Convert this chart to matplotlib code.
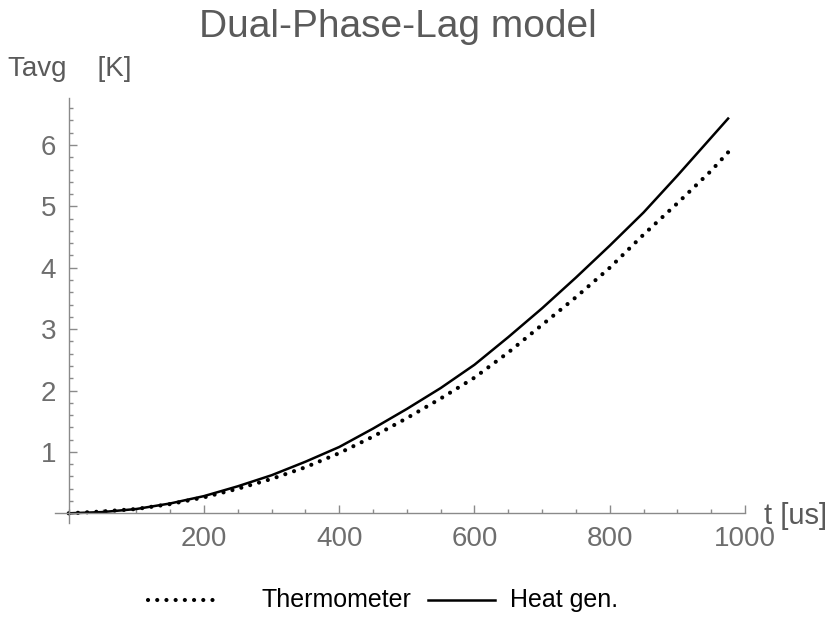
import matplotlib
matplotlib.use("Agg")
import matplotlib.pyplot as plt
from matplotlib.lines import Line2D
from matplotlib.ticker import MultipleLocator, FixedLocator

# ---- data ----
t_heat = [0, 50, 100, 150, 200, 250, 300, 350, 400, 450, 500, 550, 600,
          650, 700, 750, 800, 850, 900, 950, 975]
T_heat = [0, 0.02, 0.07, 0.16, 0.28, 0.44, 0.62, 0.84, 1.08, 1.38, 1.70,
          2.04, 2.42, 2.87, 3.34, 3.84, 4.36, 4.90, 5.50, 6.12, 6.43]

t_thermo = [0, 50, 100, 150, 200, 250, 300, 350, 400, 450, 500, 550, 600,
            650, 700, 750, 800, 850, 900, 950, 980]
T_thermo = [0, 0.03, 0.07, 0.15, 0.26, 0.40, 0.56, 0.75, 0.98, 1.25, 1.55,
            1.87, 2.21, 2.62, 3.07, 3.52, 4.00, 4.54, 5.05, 5.58, 5.94]

x_ticks = [200, 400, 600, 800, 1000]
y_ticks = [1, 2, 3, 4, 5, 6]
title = "Dual-Phase-Lag model"
xlabel = "t [us]"
ylabel = "Tavg    [K]"
labels = ["Thermometer", "Heat gen."]

plt.rcParams['font.family'] = ['Liberation Sans', 'DejaVu Sans']
GRAY = "#6e6e6e"
AXC = "#8a8a8a"

W, H = 836, 618
fig = plt.figure(figsize=(W / 100, H / 100), dpi=100)

xmin, xmax = -20, 1000
ymin, ymax = -0.15, 6.76
px_left, px_right = 55.2, 745.0
px_bottom, px_top = 522.5, 98.3
ax = fig.add_axes([px_left / W, 1 - px_bottom / H,
                   (px_right - px_left) / W, (px_bottom - px_top) / H])
ax.set_xlim(xmin, xmax)
ax.set_ylim(ymin, ymax)

dot_style = (0, (0.01, 2.2))
ax.plot(t_thermo, T_thermo, color="black", lw=3.0, linestyle=dot_style,
        dash_capstyle="round", solid_capstyle="round", label=labels[0])
ax.plot(t_heat, T_heat, color="black", lw=1.8, label=labels[1])

for s in ["top", "right"]:
    ax.spines[s].set_visible(False)
ax.spines["left"].set_position(("data", 0))
ax.spines["bottom"].set_position(("data", 0))
for s in ["left", "bottom"]:
    ax.spines[s].set_color(AXC)
    ax.spines[s].set_linewidth(1.0)

ax.xaxis.set_major_locator(FixedLocator(x_ticks))
ax.xaxis.set_minor_locator(MultipleLocator(50))
ax.yaxis.set_major_locator(FixedLocator(y_ticks))
ax.yaxis.set_minor_locator(MultipleLocator(0.2))
ax.tick_params(which="both", direction="in", color=AXC, width=1.0,
               labelcolor=GRAY, labelsize=20)
ax.tick_params(which="major", length=5.5)
ax.tick_params(axis="x", which="major", pad=9)
ax.tick_params(axis="y", which="major", pad=9)
ax.tick_params(which="minor", length=3)
ax.patch.set_alpha(0)

fig.text(398 / W, 1 - 27 / H, title, ha="center", va="center",
         fontsize=28, color="#5a5a5a")
fig.text(8 / W, 1 - 69 / H, ylabel, ha="left", va="center",
         fontsize=20, color="#5a5a5a")
fig.text(764 / W, 1 - 516 / H, xlabel, ha="left", va="center",
         fontsize=21, color="#5a5a5a")

# legend (drawn in figure pixel positions)
ly = 1 - 600 / H
fig.add_artist(Line2D([148 / W, 213 / W], [ly, ly], color="black", lw=3.0,
                      linestyle=dot_style, dash_capstyle="round"))
fig.text(262 / W, ly, labels[0], ha="left", va="center", fontsize=18,
         color="black")
fig.add_artist(Line2D([428 / W, 495 / W], [ly, ly], color="black", lw=1.8))
fig.text(510 / W, ly, labels[1], ha="left", va="center", fontsize=18,
         color="black")

fig.savefig("out.png", dpi=100)
